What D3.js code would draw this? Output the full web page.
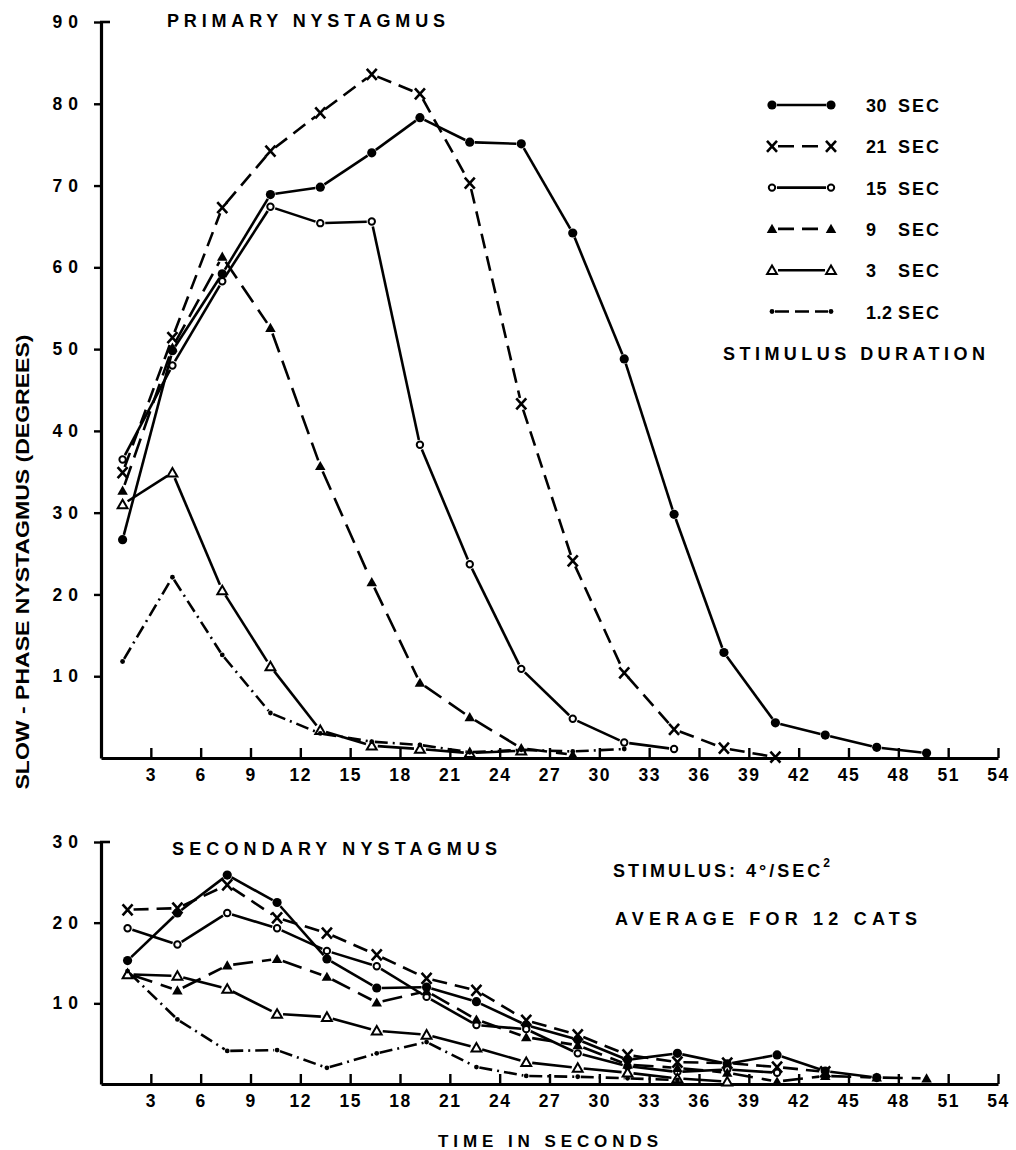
<!DOCTYPE html>
<html><head><meta charset="utf-8">
<script src="https://cdn.jsdelivr.net/npm/d3@7"></script>
<style>
html,body{margin:0;padding:0;background:#fff;}
svg{display:block;background:#fff;}
text{font-family:"Liberation Sans",Arial,sans-serif;font-weight:bold;fill:#000;}
</style></head><body>
<svg id="chart" width="1016" height="1150"></svg>
<script>
// ---------------- DATA ----------------
const durations = ["30", "21", "15", "9", "3", "1.2"];
const xTicks = [3,6,9,12,15,18,21,24,27,30,33,36,39,42,45,48,51,54];
const yTicksPrimary = [10,20,30,40,50,60,70,80,90];
const yTicksSecondary = [10,20,30];

// measurement times (s) read from the positions of the points
const primaryTimes   = [1.3,4.3,7.3,10.2,13.2,16.3,19.2,22.2,25.3,28.4,31.5,34.5,37.5,40.6,43.6,46.7,49.7];
const secondaryTimes = [1.6,4.6,7.6,10.6,13.6,16.6,19.6,22.6,25.6,28.7,31.7,34.7,37.7,40.7,43.6,46.7,49.7];

// PRIMARY NYSTAGMUS (degrees)
const primary30  = [26.7,49.8,59.2,68.9,69.8,74.0,78.3,75.3,75.1,64.2,48.8,29.8,12.9,4.3,2.8,1.3,0.6];
const primary21  = [34.9,51.4,67.3,74.2,78.9,83.6,81.2,70.3,43.3,24.1,10.4,3.5,1.2,0.1];
const primary15  = [36.5,48.0,58.3,67.4,65.4,65.6,38.3,23.7,10.9,4.8,1.9,1.1];
const primary9   = [32.7,50.2,61.3,52.6,35.7,21.5,9.2,5.0,1.2,0.4];
const primary3   = [31.0,34.9,20.5,11.2,3.4,1.5,1.1,0.6,0.9];
const primary1_2 = [11.8,22.1,12.6,5.5,3.0,2.0,1.6,0.7,1.0,0.8,1.1];

// SECONDARY NYSTAGMUS (degrees)
const secondary30  = [15.3,21.2,25.9,22.5,15.5,11.9,12.0,10.2,7.3,5.5,3.0,3.8,2.5,3.6,1.6,0.8];
const secondary21  = [21.6,21.8,24.7,20.6,18.7,16.0,13.1,11.6,7.9,6.1,3.6,2.7,2.6,2.1,1.5];
const secondary15  = [19.3,17.3,21.2,19.3,16.5,14.6,10.8,7.3,6.8,3.8,2.2,1.5,1.8,1.4];
const secondary9   = [13.7,11.6,14.7,15.5,13.3,10.1,11.5,8.0,5.8,4.8,2.4,2.0,1.4,0.3,1.0,0.8,0.7];
const secondary3   = [13.6,13.4,11.8,8.7,8.3,6.6,6.1,4.5,2.7,2.0,1.4,0.7,0.3];
const secondary1_2 = [14.0,8.0,4.1,4.2,2.0,3.8,5.2,2.1,1.0,0.9,0.7,0.5];

// ---------------- STYLES ----------------
const styles = {
  "30":  {marker: "dot",      dash: null,        gap: 5},
  "21":  {marker: "x",        dash: "15 8",      gap: 6},
  "15":  {marker: "circle",   dash: null,        gap: 5},
  "9":   {marker: "tri",      dash: "20 9",      gap: 6},
  "3":   {marker: "opentri",  dash: null,        gap: 6},
  "1.2": {marker: "smalldot", dash: "13 5 2 5",  gap: 3}
};

const svg = d3.select("#chart");
const x = d3.scaleLinear().domain([0, 54]).range([101, 998]);
const yTop = d3.scaleLinear().domain([0, 90]).range([758, 22]);
const yBot = d3.scaleLinear().domain([0, 30]).range([1084, 842]);

const primarySeries = [primary30, primary21, primary15, primary9, primary3, primary1_2];
const secondarySeries = [secondary30, secondary21, secondary15, secondary9, secondary3, secondary1_2];

function drawMarker(g, type, cx, cy) {
  if (type === "dot") {
    g.append("circle").attr("cx", cx).attr("cy", cy).attr("r", 4.6).attr("fill", "#000");
  } else if (type === "circle") {
    g.append("circle").attr("cx", cx).attr("cy", cy).attr("r", 3.2)
      .attr("fill", "#fff").attr("stroke", "#000").attr("stroke-width", 2);
  } else if (type === "x") {
    const s = 5;
    g.append("path").attr("d", `M${cx-s},${cy-s-0.5}L${cx+s},${cy+s+0.5}M${cx+s},${cy-s-0.5}L${cx-s},${cy+s+0.5}`)
      .attr("stroke", "#000").attr("stroke-width", 2.6).attr("fill", "none");
  } else if (type === "tri") {
    g.append("path").attr("transform", `translate(${cx},${cy+1})`)
      .attr("d", d3.symbol().type(d3.symbolTriangle).size(48)()).attr("fill", "#000");
  } else if (type === "opentri") {
    g.append("path").attr("transform", `translate(${cx},${cy+1})`)
      .attr("d", d3.symbol().type(d3.symbolTriangle).size(42)())
      .attr("fill", "#fff").attr("stroke", "#000").attr("stroke-width", 2);
  } else if (type === "smalldot") {
    g.append("circle").attr("cx", cx).attr("cy", cy).attr("r", 2.4).attr("fill", "#000");
  }
}

function drawSeries(g, times, values, yScale, st) {
  const pts = values.map((v, i) => [x(times[i]), yScale(v)]);
  for (let i = 0; i < pts.length - 1; i++) {
    const [x1, y1] = pts[i], [x2, y2] = pts[i + 1];
    const dx = x2 - x1, dy = y2 - y1, len = Math.hypot(dx, dy);
    if (len <= 2 * st.gap + 1) continue;
    const ux = dx / len, uy = dy / len;
    g.append("line")
      .attr("x1", x1 + ux * st.gap).attr("y1", y1 + uy * st.gap)
      .attr("x2", x2 - ux * st.gap).attr("y2", y2 - uy * st.gap)
      .attr("stroke", "#000").attr("stroke-width", 2.6)
      .attr("stroke-dasharray", st.dash);
  }
  return pts;
}

function drawPanel(series, times, yScale, yTicks) {
  const g = svg.append("g");
  const bottom = yScale(0);
  // x axis (ticks pointing up)
  const xa = g.append("g").attr("transform", `translate(0,${bottom})`)
    .call(d3.axisBottom(x).tickValues(xTicks).tickSizeInner(-10).tickSizeOuter(0).tickPadding(11).tickFormat(d3.format("d")));
  xa.select(".domain").attr("stroke-width", 3);
  xa.selectAll(".tick line").attr("stroke-width", 2.4);
  xa.selectAll("text").attr("font-size", 17.5).attr("letter-spacing", 1.5)
    .style("font-family", '"Liberation Sans",Arial,sans-serif').style("font-weight", "bold");
  // y axis
  const ya = g.append("g").attr("transform", `translate(${x(0)},0)`)
    .call(d3.axisLeft(yScale).tickValues(yTicks).tickSizeInner(7).tickSizeOuter(0).tickPadding(10));
  ya.select(".domain").attr("stroke-width", 3.2);
  ya.selectAll(".tick line").attr("stroke-width", 2.4);
  ya.selectAll("text").attr("font-size", 17.5).attr("letter-spacing", 6)
    .style("font-family", '"Liberation Sans",Arial,sans-serif').style("font-weight", "bold");
  // top bracket
  g.append("line").attr("x1", x(0) - 1).attr("x2", x(0) + 9)
    .attr("y1", yScale(yScale.domain()[1])).attr("y2", yScale(yScale.domain()[1]))
    .attr("stroke", "#000").attr("stroke-width", 2.6);
  // lines then markers
  const allPts = series.map((vals, k) => drawSeries(g, times, vals, yScale, styles[durations[k]]));
  allPts.forEach((pts, k) => pts.forEach(([px, py]) => drawMarker(g, styles[durations[k]].marker, px, py)));
}

drawPanel(primarySeries, primaryTimes, yTop, yTicksPrimary);
drawPanel(secondarySeries, secondaryTimes, yBot, yTicksSecondary);

// ---------------- LEGEND ----------------
const legend = svg.append("g");
durations.forEach((d, i) => {
  const st = styles[d];
  const cy = 105 + i * 41.3;
  const x1 = 772, x2 = 831;
  legend.append("line").attr("x1", x1 + st.gap).attr("x2", x2 - st.gap)
    .attr("y1", cy).attr("y2", cy).attr("stroke", "#000").attr("stroke-width", 2.6)
    .attr("stroke-dasharray", st.dash === null ? null : (d === "1.2" ? "14 6" : "16 8"));
  drawMarker(legend, st.marker, x1, cy);
  drawMarker(legend, st.marker, x2, cy);
  legend.append("text").attr("x", 866).attr("y", cy + 7).attr("font-size", 18)
    .attr("letter-spacing", 0.5).text(d);
  legend.append("text").attr("x", 898).attr("y", cy + 7).attr("font-size", 18)
    .attr("letter-spacing", 2).text("SEC");
});
legend.append("text").attr("x", 723).attr("y", 360).attr("font-size", 18)
  .attr("textLength", 262).attr("lengthAdjust", "spacing").text("STIMULUS  DURATION");

// ---------------- TITLES / LABELS ----------------
svg.append("text").attr("x", 167).attr("y", 27).attr("font-size", 18)
  .attr("textLength", 278).attr("lengthAdjust", "spacing").text("PRIMARY   NYSTAGMUS");
svg.append("text").attr("x", 172).attr("y", 855).attr("font-size", 18)
  .attr("textLength", 325).attr("lengthAdjust", "spacing").text("SECONDARY   NYSTAGMUS");
const stim = svg.append("text").attr("x", 613).attr("y", 877).attr("font-size", 18);
stim.append("tspan").attr("letter-spacing", 3).text("STIMULUS:  4°/SEC");
stim.append("tspan").attr("font-size", 12).attr("dy", -10).text("2");
svg.append("text").attr("x", 615).attr("y", 925).attr("font-size", 18)
  .attr("textLength", 302).attr("lengthAdjust", "spacing").text("AVERAGE  FOR  12  CATS");
svg.append("text").attr("x", 438).attr("y", 1147).attr("font-size", 17)
  .attr("textLength", 220).attr("lengthAdjust", "spacing").text("TIME  IN  SECONDS");
svg.append("text").attr("transform", "translate(29,562) rotate(-90)")
  .attr("text-anchor", "middle").attr("font-size", 19)
  .attr("textLength", 455).attr("lengthAdjust", "spacingAndGlyphs")
  .text("SLOW - PHASE   NYSTAGMUS   (DEGREES)");
</script>
</body></html>
